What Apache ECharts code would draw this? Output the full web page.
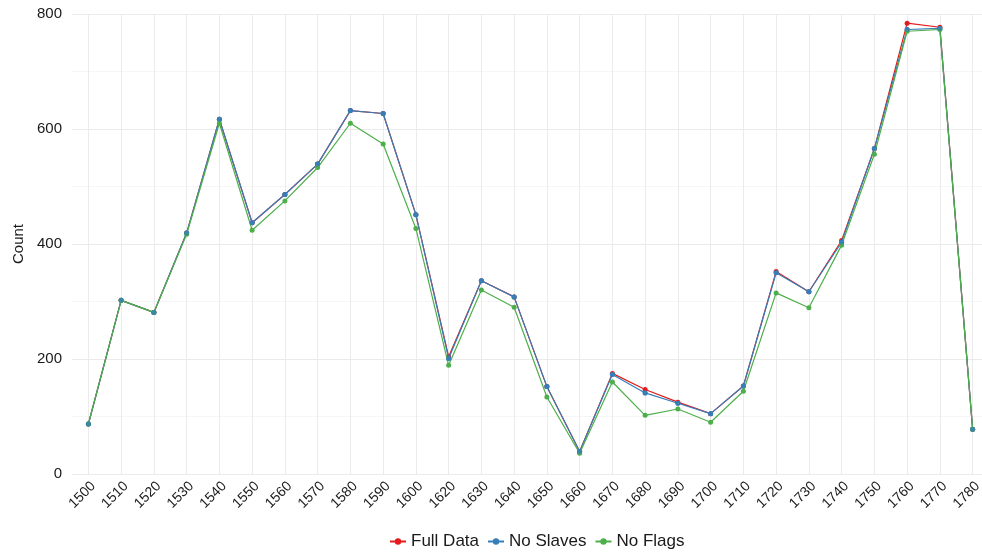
<!DOCTYPE html>
<html>
<head>
<meta charset="utf-8">
<script src="https://cdn.jsdelivr.net/npm/echarts@6/dist/echarts.min.js"></script>
<style>
  html, body { margin: 0; padding: 0; background: #fff; }
  #chart { width: 982px; height: 552px; }
</style>
</head>
<body>
<div id="chart"></div>
<script>
const years = ['1500', '1510', '1520', '1530', '1540', '1550', '1560', '1570', '1580', '1590', '1600',
  '1620', '1630', '1640', '1650', '1660', '1670', '1680', '1690', '1700', '1710', '1720', '1730',
  '1740', '1750', '1760', '1770', '1780']
const fullData = [87, 302, 281, 419, 617, 437, 486, 539, 632, 627, 451,
  204, 336, 308, 152, 39, 175, 147, 125, 105, 153, 352, 317,
  406, 566, 784, 777, 78]
const noSlaves = [87, 302, 281, 419, 617, 437, 486, 539, 632, 627, 451,
  201, 336, 308, 152, 39, 173, 141, 123, 105, 153, 350, 317,
  403, 566, 773, 775, 78]
const noFlags = [87, 302, 281, 417, 610, 424, 475, 533, 610, 574, 427,
  189, 320, 290, 134, 36, 160, 102, 113, 90, 144, 315, 289,
  398, 556, 770, 773, 78]
const yTicks = { min: 0, max: 800, interval: 200 }

let myChart = echarts.init(document.getElementById('chart'))

function lineSeries (name, color, data, z) {
  return {
    name: name,
    type: 'line',
    data: data,
    z: z,
    symbol: 'circle',
    symbolSize: 5,
    lineStyle: { color: color, width: 1.2 },
    itemStyle: { color: color },
    emphasis: { disabled: true },
    animation: false
  }
}

let option = {
  textStyle: { fontFamily: 'Liberation Sans, Arial, sans-serif' },
  grid: {
    left: 72,
    width: 917,
    top: 14,
    bottom: 78,
    outerBoundsMode: 'none'
  },
  legend: {
    top: 528,
    left: 384,
    itemWidth: 16,
    itemHeight: 8,
    itemGap: 8,
    textStyle: { fontSize: 17, color: '#1a1a1a' },
    data: ['Full Data', 'No Slaves', 'No Flags']
  },
  xAxis: {
    type: 'category',
    data: years,
    boundaryGap: true,
    axisLine: { show: false },
    axisTick: { show: false, alignWithLabel: true },
    axisLabel: {
      rotate: 45,
      interval: 0,
      margin: 5,
      verticalAlign: 'top',
      fontSize: 14,
      color: '#1a1a1a'
    },
    splitLine: {
      show: true,
      alignWithLabel: true,
      lineStyle: { color: '#ebebeb', width: 1 }
    }
  },
  yAxis: {
    type: 'value',
    min: yTicks.min,
    max: yTicks.max,
    interval: yTicks.interval,
    name: 'Count',
    nameLocation: 'middle',
    nameGap: 45,
    nameRotate: 90,
    nameTextStyle: { fontSize: 15, color: '#1a1a1a' },
    axisLabel: { fontSize: 15, color: '#1a1a1a', margin: 10 },
    axisLine: { show: false },
    axisTick: { show: false },
    splitLine: { lineStyle: { color: '#ebebeb', width: 1.2 } },
    minorTick: { show: false, splitNumber: 2 },
    minorSplitLine: { show: true, lineStyle: { color: '#f5f5f5', width: 1 } }
  },
  series: [
    lineSeries('Full Data', '#E41A1C', fullData, 2),
    lineSeries('No Slaves', '#377EB8', noSlaves, 3),
    lineSeries('No Flags', '#4DAF4A', noFlags, 4),
    // blue points sit above the green line, as in the original plot
    {
      name: 'No Slaves',
      type: 'scatter',
      data: noSlaves,
      z: 5,
      symbol: 'circle',
      symbolSize: 5,
      itemStyle: { color: '#377EB8' },
      emphasis: { disabled: true },
      animation: false
    }
  ]
}
myChart.setOption(option)
window.addEventListener('resize', function () {
  myChart.resize()
})
</script>
</body>
</html>
